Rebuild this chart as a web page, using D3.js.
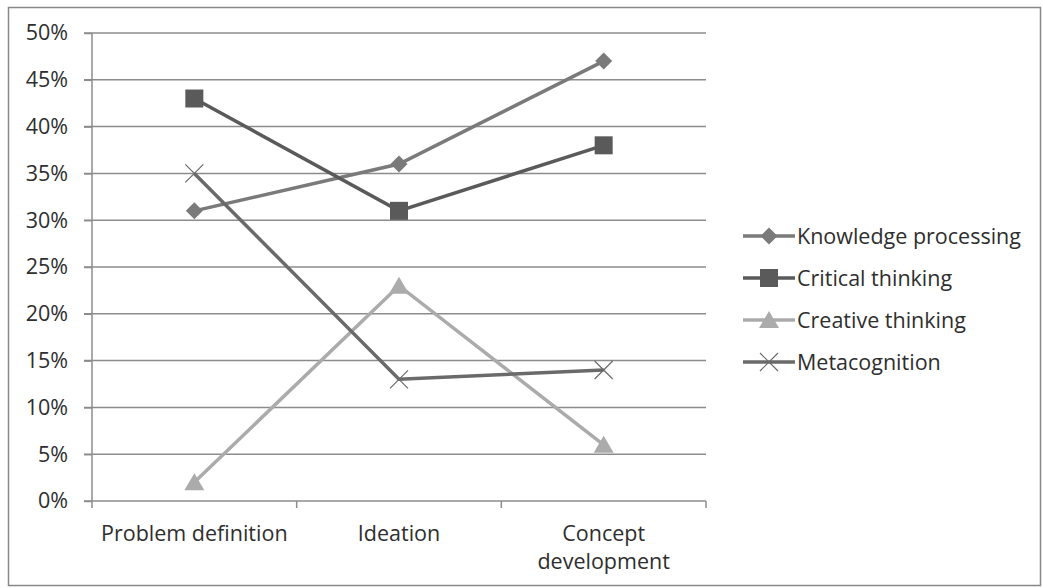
<!DOCTYPE html>
<html>
<head>
<meta charset="utf-8">
<script src="https://cdn.jsdelivr.net/npm/d3@7"></script>
<style>
  body { margin: 0; background: #fff; }
  text { font-family: "Open Sans", "DejaVu Sans", sans-serif; fill: #2e2e2e; }
</style>
</head>
<body>
<div id="content"></div>
<script>
// chart data
const categories = ["Problem definition", "Ideation", "Concept development"];
const seriesNames = ["Knowledge processing", "Critical thinking", "Creative thinking", "Metacognition"];
const knowledgeProcessing = [31, 36, 47];
const criticalThinking = [43, 31, 38];
const creativeThinking = [2, 23, 6];
const metacognition = [35, 13, 14];
const yTicks = [0, 5, 10, 15, 20, 25, 30, 35, 40, 45, 50];

const width = 1043, height = 588;
const margin = { left: 92, right: 337, top: 33, bottom: 87 };
const fontSize = "21.5px";

const svg = d3.select("#content")
    .append("svg")
    .attr("width", width)
    .attr("height", height);

// outer frame
svg.append("rect")
    .attr("x", 8.5).attr("y", 7.5)
    .attr("width", width - 11).attr("height", height - 10)
    .attr("fill", "none")
    .attr("stroke", "#888")
    .attr("stroke-width", 1.5);

const xScale = d3.scaleBand()
    .domain(categories)
    .range([margin.left, width - margin.right]);

const yScale = d3.scaleLinear()
    .domain([0, 50])
    .range([height - margin.bottom, margin.top]);

// gridlines
svg.append("g")
    .selectAll("line")
    .data(yTicks)
    .enter()
    .append("line")
    .attr("x1", margin.left - 8)
    .attr("x2", width - margin.right)
    .attr("y1", d => yScale(d))
    .attr("y2", d => yScale(d))
    .attr("stroke", "#8c8c8c")
    .attr("stroke-width", 1.5);

// y axis
const yAxis = d3.axisLeft(yScale)
    .tickValues(yTicks)
    .tickFormat(d => d + "%")
    .tickSize(8)
    .tickPadding(16);

const yG = svg.append("g")
    .attr("transform", "translate(" + margin.left + ",0)")
    .call(yAxis);
yG.selectAll("line").attr("stroke", "#8c8c8c").attr("stroke-width", 1.5);
yG.select(".domain").attr("stroke", "#8c8c8c").attr("stroke-width", 1.5).attr("d", "M0," + yScale(0) + "V" + yScale(50));
yG.selectAll("text").style("font-size", fontSize).attr("fill", "#2e2e2e").attr("font-family", null);

// x axis with ticks on band boundaries
const xG = svg.append("g")
    .attr("transform", "translate(0," + yScale(0) + ")");
const bounds = categories.map(c => xScale(c)).concat([xScale(categories[categories.length - 1]) + xScale.bandwidth()]);
xG.selectAll("line.tick")
    .data(bounds)
    .enter()
    .append("line")
    .attr("x1", d => d).attr("x2", d => d)
    .attr("y1", 0).attr("y2", 7)
    .attr("stroke", "#8c8c8c")
    .attr("stroke-width", 1.5);

const xLabels = xG.selectAll("text")
    .data(categories)
    .enter()
    .append("text")
    .attr("text-anchor", "middle")
    .attr("x", d => xScale(d) + xScale.bandwidth() / 2)
    .attr("y", 40)
    .style("font-size", fontSize);
xLabels.each(function (d) {
    const t = d3.select(this);
    const parts = d === "Concept development" ? ["Concept", "development"] : [d];
    parts.forEach((p, i) => {
        t.append("tspan")
            .attr("x", xScale(d) + xScale.bandwidth() / 2)
            .attr("dy", i === 0 ? 0 : 28)
            .text(p);
    });
});

// series
const series = [
    { name: seriesNames[0], values: knowledgeProcessing, color: "#7a7a7a", marker: "diamond" },
    { name: seriesNames[1], values: criticalThinking, color: "#5a5a5a", marker: "square" },
    { name: seriesNames[2], values: creativeThinking, color: "#ababab", marker: "triangle" },
    { name: seriesNames[3], values: metacognition, color: "#6a6a6a", marker: "cross" }
];

const cx = i => xScale(categories[i]) + xScale.bandwidth() / 2;
const line = d3.line()
    .x((d, i) => cx(i))
    .y(d => yScale(d));

function drawMarker(g, type, x, y, color) {
    if (type === "diamond") {
        g.append("path")
            .attr("d", "M" + x + "," + (y - 8.5) + "L" + (x + 8.5) + "," + y + "L" + x + "," + (y + 8.5) + "L" + (x - 8.5) + "," + y + "Z")
            .attr("fill", color);
    } else if (type === "square") {
        g.append("rect")
            .attr("x", x - 9).attr("y", y - 9)
            .attr("width", 18).attr("height", 18)
            .attr("fill", color);
    } else if (type === "triangle") {
        g.append("path")
            .attr("d", "M" + x + "," + (y - 9) + "L" + (x + 10) + "," + (y + 8) + "L" + (x - 10) + "," + (y + 8) + "Z")
            .attr("fill", color);
    } else {
        g.append("path")
            .attr("d", "M" + (x - 9) + "," + (y - 9) + "L" + (x + 9) + "," + (y + 9) + "M" + (x - 9) + "," + (y + 9) + "L" + (x + 9) + "," + (y - 9))
            .attr("stroke", color)
            .attr("stroke-width", 1.2)
            .attr("fill", "none");
    }
}

series.forEach(s => {
    const g = svg.append("g");
    g.append("path")
        .datum(s.values)
        .attr("d", line)
        .attr("fill", "none")
        .attr("stroke", s.color)
        .attr("stroke-width", 3.5);
    s.values.forEach((v, i) => drawMarker(g, s.marker, cx(i), yScale(v), s.color));
});

// legend
const legend = svg.append("g")
    .attr("transform", "translate(743,236)");
series.forEach((s, i) => {
    const g = legend.append("g").attr("transform", "translate(0," + (i * 42) + ")");
    g.append("line")
        .attr("x1", 0).attr("x2", 52)
        .attr("y1", 0).attr("y2", 0)
        .attr("stroke", s.color)
        .attr("stroke-width", 3.5);
    drawMarker(g, s.marker, 26, 0, s.color);
    g.append("text")
        .attr("x", 54)
        .attr("y", 8)
        .style("font-size", fontSize)
        .text(s.name);
});
</script>
</body>
</html>
